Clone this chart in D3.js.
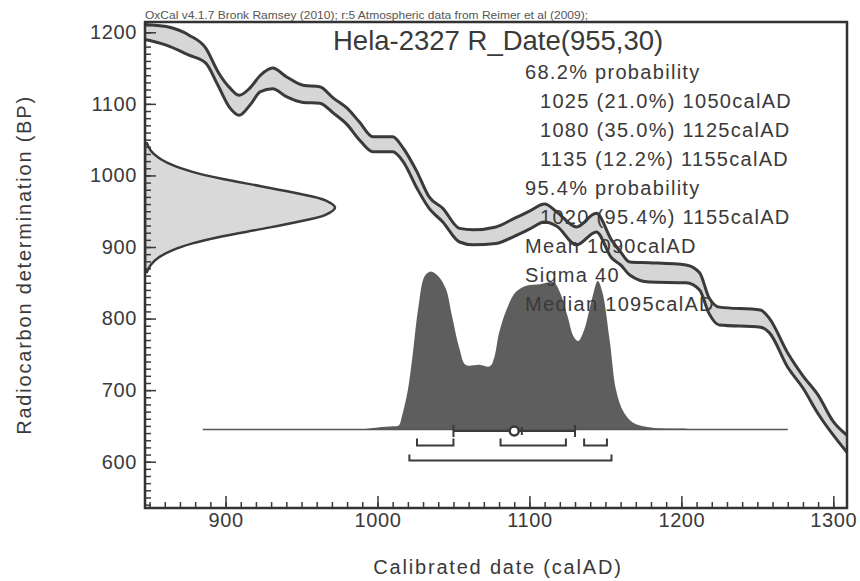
<!DOCTYPE html>
<html>
<head>
<meta charset="utf-8">
<style>
  body { margin: 0; background: #fff; }
  svg text { font-family: "Liberation Sans", Arial, sans-serif; fill: #3a3a3a; }
  .tick line { stroke: #3a3a3a; stroke-width: 1.5; }
  .tick text { font-size: 20px; letter-spacing: 0.6px; fill: #3a3a3a; font-family: "Liberation Sans", Arial, sans-serif; }
  .frame { fill: none; stroke: #333; stroke-width: 2.5; }
  .stats { font-size: 20px; letter-spacing: 1.3px; }
  .axis-title { font-size: 20px; letter-spacing: 1.8px; }
</style>
<script src="https://d3js.org/d3.v7.min.js"></script>
</head>
<body>
<svg width="860" height="581"></svg>
<script>

// calibration curve (IntCal09 band)
var calYear  = [847, 861, 876, 887, 895, 903, 909, 916, 923, 931, 940, 951, 962, 971, 980, 988, 997, 1010, 1017, 1026, 1034, 1043, 1054, 1063, 1078, 1090, 1100, 1110, 1118, 1131, 1144, 1154, 1160, 1166, 1179, 1203, 1212, 1218, 1225, 1252, 1258, 1270, 1280, 1290, 1300, 1309];
var calUpper = [1211, 1208, 1196, 1178, 1145, 1122, 1112, 1122, 1140, 1150, 1138, 1126, 1124, 1108, 1094, 1075, 1054, 1054, 1038, 1005, 970, 954, 926, 924, 928, 940, 950, 960, 949, 928, 947, 910, 893, 879, 878, 875, 864, 830, 816, 812, 800, 752, 720, 693, 656, 637];
var calLower = [1190, 1182, 1168, 1157, 1126, 1094, 1084, 1098, 1117, 1121, 1110, 1102, 1101, 1087, 1071, 1050, 1033, 1033, 1019, 982, 954, 935, 907, 903, 905, 915, 925, 935, 929, 903, 921, 885, 875, 861, 851, 850, 840, 808, 791, 788, 780, 732, 703, 667, 637, 613];

// radiocarbon measurement 955 +/- 30 BP (relative density)
var rdBP      = [865, 875, 885, 895, 905, 915, 925, 935, 945, 955, 965, 975, 985, 995, 1005, 1015, 1025, 1035, 1045];
var rdDensity = [0.01, 0.03, 0.07, 0.14, 0.25, 0.41, 0.61, 0.80, 0.95, 1.0, 0.95, 0.80, 0.61, 0.41, 0.25, 0.14, 0.07, 0.03, 0.01];

// calibrated probability (relative)
var postYear = [885, 990, 1000, 1010, 1014, 1016, 1020, 1023, 1027, 1031, 1035, 1040, 1045, 1049, 1054, 1058, 1067, 1074, 1077, 1080, 1085, 1091, 1098, 1107, 1116, 1120, 1125, 1129, 1132, 1136, 1141, 1145, 1148, 1153, 1157, 1162, 1168, 1180, 1200, 1213, 1270];
var postProb = [0, 0.003, 0.013, 0.02, 0.025, 0.08, 0.25, 0.46, 0.78, 0.97, 1.0, 0.97, 0.89, 0.72, 0.51, 0.41, 0.41, 0.40, 0.46, 0.61, 0.76, 0.87, 0.91, 0.92, 0.93, 0.87, 0.72, 0.59, 0.56, 0.63, 0.82, 0.94, 0.87, 0.55, 0.25, 0.11, 0.045, 0.013, 0.006, 0, 0];

var ranges68 = [[1026, 1050], [1081, 1124], [1136, 1151]];
var ranges95 = [[1021, 1154]];
var meanDate = 1090, sigmaDate = 40, medianDate = 1095;

var xTicks = [900, 1000, 1100, 1200, 1300];
var yTicks = [600, 700, 800, 900, 1000, 1100, 1200];

var header = "OxCal v4.1.7 Bronk Ramsey (2010); r:5 Atmospheric data from Reimer et al (2009);";
var title = "Hela-2327 R_Date(955,30)";
var statLines = [
  {t: "68.2% probability", indent: 0},
  {t: "1025 (21.0%) 1050calAD", indent: 1},
  {t: "1080 (35.0%) 1125calAD", indent: 1},
  {t: "1135 (12.2%) 1155calAD", indent: 1},
  {t: "95.4% probability", indent: 0},
  {t: "1020 (95.4%) 1155calAD", indent: 1},
  {t: "Mean 1090calAD", indent: 0},
  {t: "Sigma 40", indent: 0},
  {t: "Median 1095calAD", indent: 0}
];

var svg = d3.select("svg"),
    pLeft = 145, pRight = 847, pTop = 22, pBottom = 508,
    ink = "#3a3a3a";

var x = d3.scaleLinear().domain([847, 1309]).range([pLeft, pRight]);
var y = d3.scaleLinear().domain([535.3, 1214.4]).range([pBottom, pTop]);

svg.append("clipPath").attr("id", "plot")
   .append("rect").attr("x", pLeft).attr("y", pTop).attr("width", pRight - pLeft).attr("height", pBottom - pTop);

var plot = svg.append("g").attr("clip-path", "url(#plot)");

// calibration band
var cal = calYear.map(function(d, i) { return {yr: d, hi: calUpper[i], lo: calLower[i]}; });

plot.append("path")
    .datum(cal)
    .attr("fill", "#d6d6d6")
    .attr("d", d3.area().curve(d3.curveMonotoneX)
        .x(function(d) { return x(d.yr); })
        .y0(function(d) { return y(d.lo); })
        .y1(function(d) { return y(d.hi); }));

["hi", "lo"].forEach(function(k) {
    plot.append("path")
        .datum(cal)
        .attr("fill", "none")
        .attr("stroke", ink)
        .attr("stroke-width", 3)
        .attr("d", d3.line().curve(d3.curveMonotoneX)
            .x(function(d) { return x(d.yr); })
            .y(function(d) { return y(d[k]); }));
});

// measurement distribution on the y axis
var rd = rdBP.map(function(d, i) { return {bp: d, p: rdDensity[i]}; });
var gx = d3.scaleLinear().domain([0, 1]).range([pLeft, 335]);

plot.append("path")
    .datum(rd)
    .attr("fill", "#d9d9d9")
    .attr("stroke", ink)
    .attr("stroke-width", 2.5)
    .attr("d", d3.area().curve(d3.curveCatmullRom)
        .y(function(d) { return y(d.bp); })
        .x0(pLeft)
        .x1(function(d) { return gx(d.p); }));

// calibrated distribution
var baseBP = 645;
var py = d3.scaleLinear().domain([0, 1]).range([y(baseBP), y(baseBP) - 158]);
var post = postYear.map(function(d, i) { return {yr: d, p: postProb[i]}; });

plot.append("path")
    .datum(post)
    .attr("fill", "#5e5e5e")
    .attr("d", d3.area().curve(d3.curveCatmullRom)
        .x(function(d) { return x(d.yr); })
        .y0(py(0))
        .y1(function(d) { return py(d.p); }));

plot.append("line")
    .attr("x1", x(postYear[0])).attr("x2", x(postYear[postYear.length - 1]))
    .attr("y1", py(0)).attr("y2", py(0))
    .attr("stroke", "#555").attr("stroke-width", 1.5);

// range brackets
function bracket(r, yy, h) {
    plot.append("path")
        .attr("fill", "none").attr("stroke", ink).attr("stroke-width", 2)
        .attr("d", "M" + x(r[0]) + "," + (yy - h) + "V" + yy + "H" + x(r[1]) + "V" + (yy - h));
}
ranges68.forEach(function(r) { bracket(r, py(0) + 16, 7); });
ranges95.forEach(function(r) { bracket(r, py(0) + 31, 6); });

// mean +/- sigma
var my = py(0) + 1.5;
plot.append("path")
    .attr("fill", "none").attr("stroke", ink).attr("stroke-width", 2)
    .attr("d", "M" + x(meanDate - sigmaDate) + "," + my + "H" + x(meanDate + sigmaDate) +
               "M" + x(meanDate - sigmaDate) + "," + (my - 6) + "V" + (my + 6) +
               "M" + x(meanDate + sigmaDate) + "," + (my - 6) + "V" + (my + 6) +
               "M" + x(medianDate) + "," + (my - 4) + "V" + (my + 4));
plot.append("circle")
    .attr("cx", x(meanDate)).attr("cy", my).attr("r", 4.5)
    .attr("fill", "#fff").attr("stroke", ink).attr("stroke-width", 2.5);

// axes
function clean(g) { g.select(".domain").remove(); }

svg.append("g").attr("transform", "translate(0," + pBottom + ")")
   .call(d3.axisBottom(x).tickValues(d3.range(850, 1310, 10)).tickSize(-6).tickFormat(""))
   .call(clean);
svg.append("g").attr("transform", "translate(0," + pBottom + ")")
   .call(d3.axisBottom(x).tickValues(xTicks).tickSize(-12).tickPadding(5).tickFormat(d3.format("d")))
   .call(clean);
svg.append("g").attr("transform", "translate(" + pLeft + ",0)")
   .call(d3.axisLeft(y).tickValues(d3.range(540, 1215, 10)).tickSize(-6).tickFormat(""))
   .call(clean);
svg.append("g").attr("transform", "translate(" + pLeft + ",0)")
   .call(d3.axisLeft(y).tickValues(yTicks).tickSize(-11).tickPadding(8).tickFormat(d3.format("d")))
   .call(clean);

svg.append("rect").attr("class", "frame")
   .attr("x", pLeft).attr("y", pTop).attr("width", pRight - pLeft).attr("height", pBottom - pTop);

// texts
svg.append("text")
   .attr("x", pLeft).attr("y", 19)
   .attr("textLength", 443).attr("lengthAdjust", "spacingAndGlyphs")
   .style("font-size", "11px").style("fill", "#555")
   .text(header);

svg.append("text")
   .attr("x", 333).attr("y", 50)
   .style("font-size", "27.5px")
   .text(title);

svg.selectAll(".stats").data(statLines).enter().append("text")
   .attr("class", "stats")
   .attr("x", function(d) { return 525 + d.indent * 15; })
   .attr("y", function(d, i) { return 79 + i * 29; })
   .text(function(d) { return d.t; });

svg.append("text").attr("class", "axis-title")
   .attr("x", 498).attr("y", 574)
   .attr("text-anchor", "middle")
   .text("Calibrated date (calAD)");

svg.append("text").attr("class", "axis-title")
   .attr("transform", "translate(31,265) rotate(-90)")
   .attr("text-anchor", "middle")
   .text("Radiocarbon determination (BP)");

</script>
</body>
</html>
